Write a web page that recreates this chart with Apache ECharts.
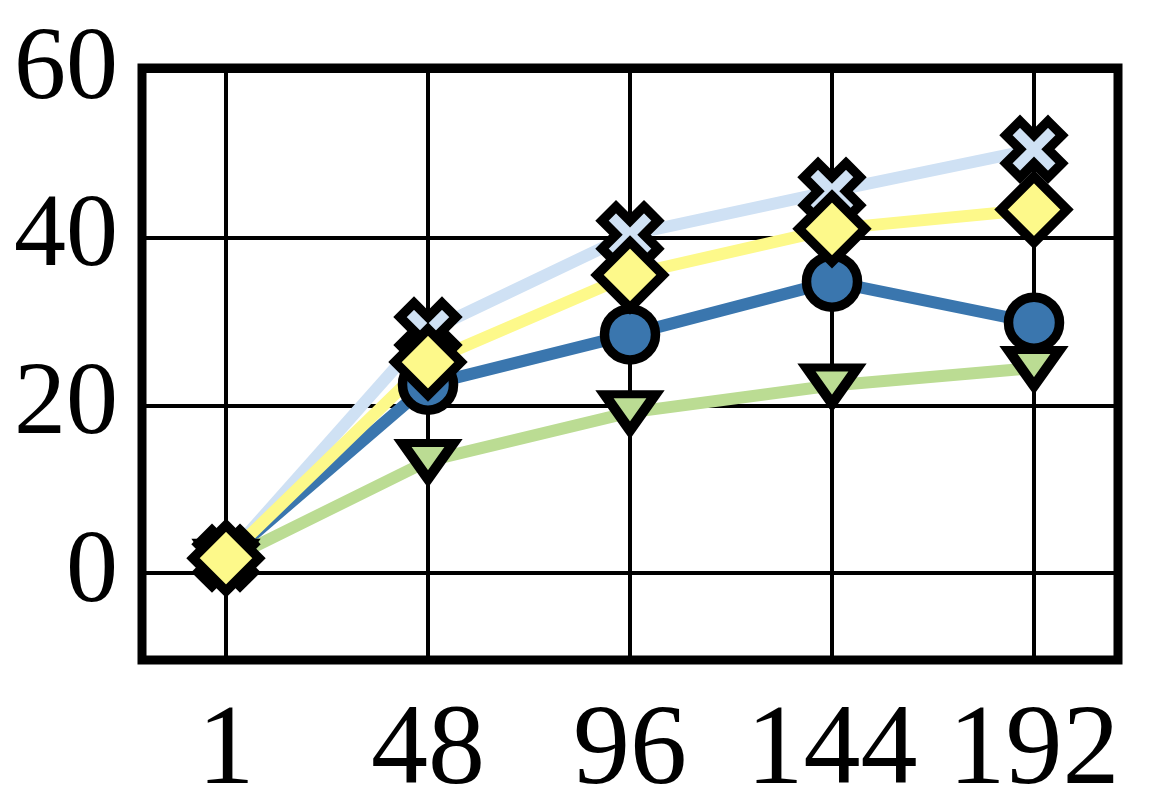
<!DOCTYPE html>
<html>
<head>
<meta charset="utf-8">
<script src="https://cdn.jsdelivr.net/npm/echarts@6/dist/echarts.min.js"></script>
<style>
  html, body { margin: 0; padding: 0; background: #fff; }
  #chart { width: 1150px; height: 800px; }
</style>
</head>
<body>
<div id="chart"></div>
<script>
// x categories
var categories = ['1', '48', '96', '144', '192']
// y ticks that get a label / grid line
var yTicks = [0, 20, 40, 60]

// series values
var circleVals = [1.8, 22.5, 28.5, 34.8, 29.9]
var triangleVals = [1.5, 13.4, 19.2, 22.4, 24.5]
var crossVals = [1.8, 28.9, 40.4, 45.6, 50.6]
var diamondVals = [1.8, 25.2, 35.6, 41.1, 43.4]

var xMark = 'path://M15 0L20 5L15 10L20 15L15 20L10 15L5 20L0 15L5 10L0 5L5 0L10 5Z'
var serif = "'Liberation Serif', 'Times New Roman', Times, serif"

function makeSeries (vals, color, symbol, size, rotate) {
  return {
    type: 'line',
    xAxisIndex: 2,
    yAxisIndex: 2,
    data: vals,
    clip: false,
    symbol: symbol,
    symbolSize: size,
    symbolRotate: rotate || 0,
    showAllSymbol: true,
    lineStyle: { width: 12, color: color },
    itemStyle: { color: color, borderColor: '#000', borderWidth: 9.5, borderJoin: 'miter' },
    emphasis: { disabled: true },
    animation: false
  }
}

var chart = echarts.init(document.getElementById('chart'))
chart.setOption({
  backgroundColor: '#fff',
  animation: false,
  grid: [
    // frame
    { left: 142, right: 32, top: 68, bottom: 140, outerBoundsMode: 'none', show: true, borderColor: '#000', borderWidth: 9, backgroundColor: 'transparent', z: 5 },
    // y axis + horizontal lines
    { left: 142, right: 32, top: 70.5, bottom: 143, outerBoundsMode: 'none' },
    // data
    { left: 226, right: 116, top: 70.5, bottom: 143, outerBoundsMode: 'none' }
  ],
  xAxis: [
    { gridIndex: 0, type: 'value', show: false },
    { gridIndex: 1, type: 'value', show: false, min: 0, max: 1 },
    {
      gridIndex: 2,
      type: 'category',
      data: categories,
      boundaryGap: false,
      axisLine: { show: false },
      axisTick: { show: false },
      axisLabel: { interval: 0, hideOverlap: false, fontFamily: serif, fontSize: 114, color: '#000', margin: 39 },
      splitLine: { show: true, interval: 0, lineStyle: { color: '#000', width: 4 } }
    }
  ],
  yAxis: [
    { gridIndex: 0, type: 'value', show: false },
    {
      gridIndex: 1,
      type: 'value',
      min: -10,
      max: 60,
      interval: 10,
      axisLine: { show: false },
      axisTick: { show: false },
      axisLabel: {
        fontFamily: serif, fontSize: 104, color: '#000', margin: 24,
        formatter: function (v) { return yTicks.indexOf(v) >= 0 ? String(v) : '' }
      },
      splitLine: { show: true, lineStyle: { color: ['transparent', '#000'], width: 4 } }
    },
    { gridIndex: 2, type: 'value', min: -10, max: 60, show: false }
  ],
  series: [
    makeSeries(circleVals, '#3a76ae', 'circle', 51),
    makeSeries(triangleVals, '#bbdc93', 'triangle', [51, 36], 180),
    makeSeries(crossVals, '#cfe1f4', xMark, 56),
    makeSeries(diamondVals, '#fdf98a', 'diamond', 66)
  ]
})
</script>
</body>
</html>
